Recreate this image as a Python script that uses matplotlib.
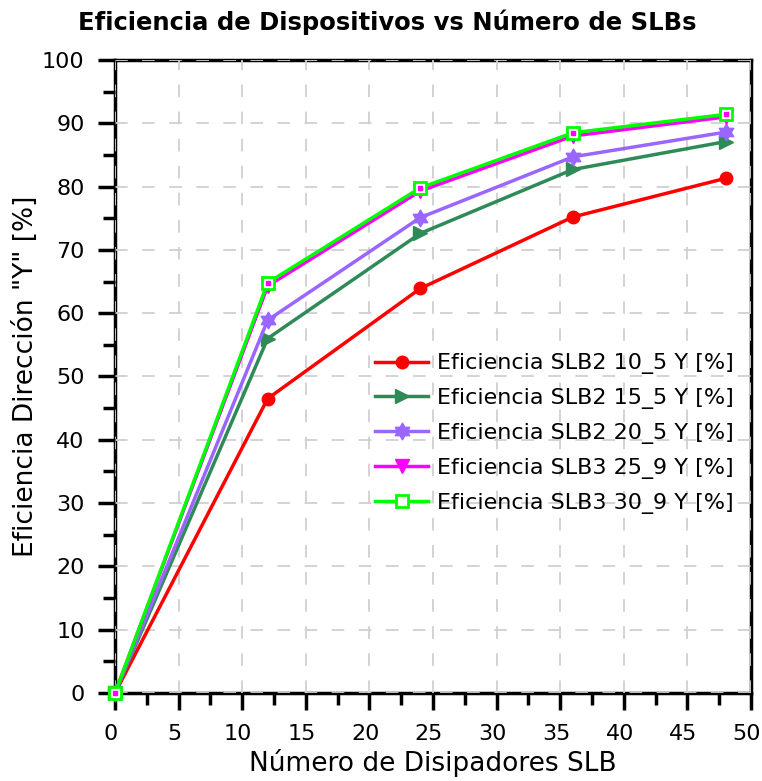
import matplotlib
matplotlib.use("Agg")
import matplotlib.pyplot as plt
import matplotlib.transforms as mtransforms
import numpy as np
from matplotlib.path import Path
from matplotlib.ticker import MultipleLocator

x_vals = [0, 12, 24, 36, 48]
slb2_10 = [0, 46.5, 63.9, 75.2, 81.3]
slb2_15 = [0, 56.0, 72.6, 82.7, 87.1]
slb2_20 = [0, 58.9, 75.1, 84.7, 88.6]
slb3_25 = [0, 64.3, 79.3, 88.0, 91.0]
slb3_30 = [0, 64.8, 79.8, 88.5, 91.4]
labels = ["Eficiencia SLB2 10_5 Y [%]", "Eficiencia SLB2 15_5 Y [%]",
          "Eficiencia SLB2 20_5 Y [%]", "Eficiencia SLB3 25_9 Y [%]",
          "Eficiencia SLB3 30_9 Y [%]"]

plt.rcParams['font.family'] = ['DejaVu Sans']

# six-pointed star marker
ang = np.deg2rad(np.arange(12) * 30 + 90)
rad = np.where(np.arange(12) % 2 == 0, 1.0, 0.58)
verts = np.column_stack([rad * np.cos(ang), rad * np.sin(ang)])
verts = np.vstack([verts, verts[0]])
hexstar = Path(verts, closed=True)

fig = plt.figure(figsize=(7.62, 7.81), dpi=100)
ax = fig.add_axes([0.151, 0.1127, 0.8345, 0.8105])

common = dict(lw=2.5, clip_on=False)
ax.plot(x_vals, slb2_10, color='#FF0000', marker='o', ms=9, mec='#FF0000', label=labels[0], zorder=5, **common)
ax.plot(x_vals, slb2_15, color='#2E8B57', marker='>', ms=9.5, mec='#2E8B57', label=labels[1], zorder=5, **common)
ax.plot(x_vals, slb2_20, color='#9966FF', marker=hexstar, ms=12, mec='#9966FF', label=labels[2], zorder=5, **common)
ax.plot(x_vals, slb3_25, color='#FF00FF', marker='v', ms=9.5, mec='#FF00FF', label=labels[3], zorder=5, **common)
ax.plot(x_vals, slb3_30, color='#00FF00', marker='s', ms=9, mfc='white', mec='#00FF00', mew=2,
        label=labels[4], zorder=6, **common)
ax.plot(x_vals, slb3_30, linestyle='none', marker='s', ms=2.5, mfc='#FF00FF', mec='#FF00FF',
        zorder=7, clip_on=False)

ax.set_xlim(0, 50)
ax.set_ylim(0, 100)
ax.xaxis.set_major_locator(MultipleLocator(5))
ax.xaxis.set_minor_locator(MultipleLocator(2.5))
ax.yaxis.set_major_locator(MultipleLocator(10))
ax.yaxis.set_minor_locator(MultipleLocator(5))

for s in ax.spines.values():
    s.set_linewidth(2.5)
    s.set_zorder(2)
ax.tick_params(which='major', direction='out', length=12, width=2.5, labelsize=16, pad=10)
ax.tick_params(which='minor', direction='out', length=8.5, width=2.5)
ax.tick_params(top=False, right=False, which='both')

shift = mtransforms.ScaledTranslation(-4 / 100, 0, fig.dpi_scale_trans)
for lbl in ax.get_xticklabels():
    lbl.set_transform(lbl.get_transform() + shift)

ax.grid(True, which='major', color='#D0D0D0', linestyle=(0, (7, 8)), linewidth=1.3, zorder=3)
ax.set_axisbelow(False)

ax.set_xlabel("Número de Disipadores SLB", fontsize=19, labelpad=4)
ax.set_ylabel('Eficiencia Dirección "Y" [%]', fontsize=19, labelpad=2)
fig.text(0.508, 0.972, "Eficiencia de Dispositivos vs Número de SLBs", fontsize=17.5,
         fontweight='bold', ha='center', va='center')

ax.legend(loc='center right', bbox_to_anchor=(1.005, 0.41), frameon=False, fontsize=16,
          handlelength=2.4, labelspacing=0.62, handletextpad=0.4)

fig.savefig("out.png", dpi=100)
